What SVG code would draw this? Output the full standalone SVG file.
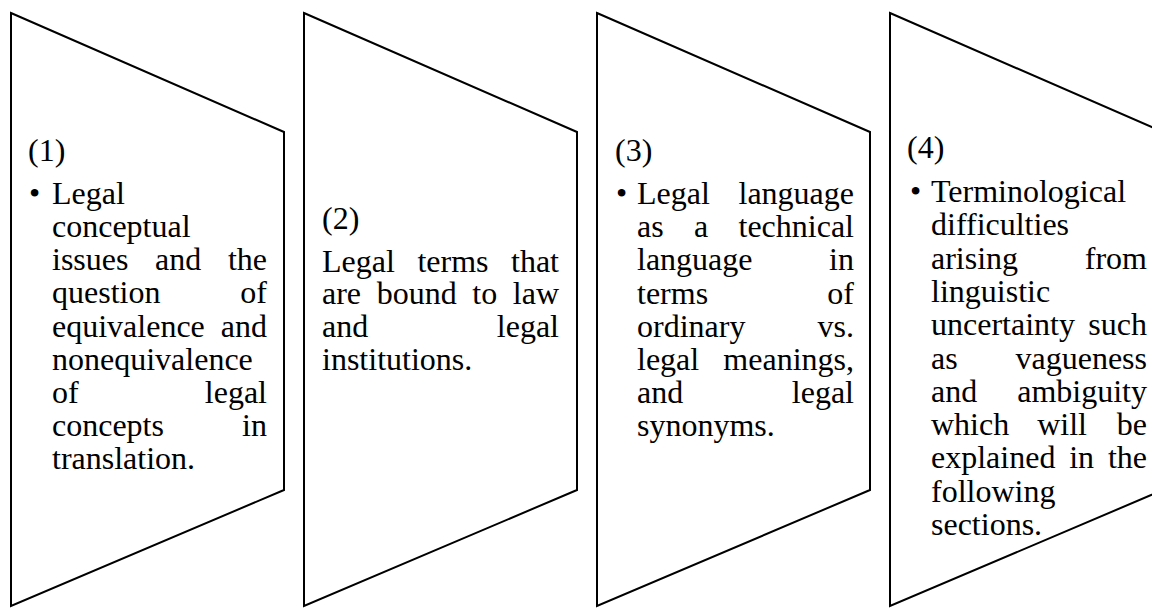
<svg xmlns="http://www.w3.org/2000/svg" width="1152" height="608" viewBox="0 0 1152 608">
<style>
.shape{fill:#fff;stroke:#000;stroke-width:2;stroke-linejoin:miter}
.t{font-family:'Liberation Serif','Times New Roman',serif;font-size:32px;fill:#000}
.e{text-anchor:end}
</style>
<rect width="1152" height="608" fill="#fff"/>
<g id="node1">
<polygon class="shape" points="11,13 284,132 284,490 11,606"/>
<g class="t">
<text x="28" y="160.5">(1)</text>
<text x="29" y="203.7">•</text>
<text x="52" y="203.7">Legal</text>
<text x="52" y="236.9">conceptual</text>
<text y="270.1"><tspan x="52">issues</tspan><tspan x="155.1">and</tspan><tspan x="267" class="e">the</tspan></text>
<text y="303.3"><tspan x="52">question</tspan><tspan x="267" class="e">of</tspan></text>
<text y="336.5"><tspan x="52">equivalence</tspan><tspan x="267" class="e">and</tspan></text>
<text x="52" y="369.7">nonequivalence</text>
<text y="402.9"><tspan x="52">of</tspan><tspan x="267" class="e">legal</tspan></text>
<text y="436.1"><tspan x="52">concepts</tspan><tspan x="267" class="e">in</tspan></text>
<text x="52" y="469.3">translation.</text>
</g>
</g>
<g id="node2">
<polygon class="shape" points="304,13 577,132 577,490 304,606"/>
<g class="t">
<text x="322" y="228.5">(2)</text>
<text y="271.5"><tspan x="322">Legal</tspan><tspan x="417.4">terms</tspan><tspan x="559" class="e">that</tspan></text>
<text y="304.3"><tspan x="322">are</tspan><tspan x="376.7">bound</tspan><tspan x="472.3">to</tspan><tspan x="559" class="e">law</tspan></text>
<text y="337.1"><tspan x="322">and</tspan><tspan x="559" class="e">legal</tspan></text>
<text x="322" y="369.9">institutions.</text>
</g>
</g>
<g id="node3">
<polygon class="shape" points="597,13 870,132 870,490 597,606"/>
<g class="t">
<text x="615" y="160.5">(3)</text>
<text x="616" y="204">•</text>
<text y="204"><tspan x="637">Legal</tspan><tspan x="854" class="e">language</tspan></text>
<text y="237.2"><tspan x="637">as</tspan><tspan x="694">a</tspan><tspan x="854" class="e">technical</tspan></text>
<text y="270.4"><tspan x="637">language</tspan><tspan x="854" class="e">in</tspan></text>
<text y="303.6"><tspan x="637">terms</tspan><tspan x="854" class="e">of</tspan></text>
<text y="336.8"><tspan x="637">ordinary</tspan><tspan x="854" class="e">vs.</tspan></text>
<text y="370"><tspan x="637">legal</tspan><tspan x="854" class="e">meanings,</tspan></text>
<text y="403.2"><tspan x="637">and</tspan><tspan x="854" class="e">legal</tspan></text>
<text x="637" y="436.4">synonyms.</text>
</g>
</g>
<g id="node4">
<polygon class="shape" points="890,13 1163,132 1163,490 890,606"/>
<g class="t">
<text x="907" y="158">(4)</text>
<text x="910" y="202">•</text>
<text x="931" y="202">Terminological</text>
<text x="931" y="235.3">difficulties</text>
<text y="268.6"><tspan x="931">arising</tspan><tspan x="1147" class="e">from</tspan></text>
<text x="931" y="301.9">linguistic</text>
<text y="335.2"><tspan x="931">uncertainty</tspan><tspan x="1147" class="e">such</tspan></text>
<text y="368.5"><tspan x="931">as</tspan><tspan x="1147" class="e">vagueness</tspan></text>
<text y="401.8"><tspan x="931">and</tspan><tspan x="1147" class="e">ambiguity</tspan></text>
<text y="435.1"><tspan x="931">which</tspan><tspan x="1037.2">will</tspan><tspan x="1147" class="e">be</tspan></text>
<text y="468.4"><tspan x="931">explained</tspan><tspan x="1069.2">in</tspan><tspan x="1147" class="e">the</tspan></text>
<text x="931" y="501.7">following</text>
<text x="931" y="535">sections.</text>
</g>
</g>
<g id="connectors"></g>
</svg>
